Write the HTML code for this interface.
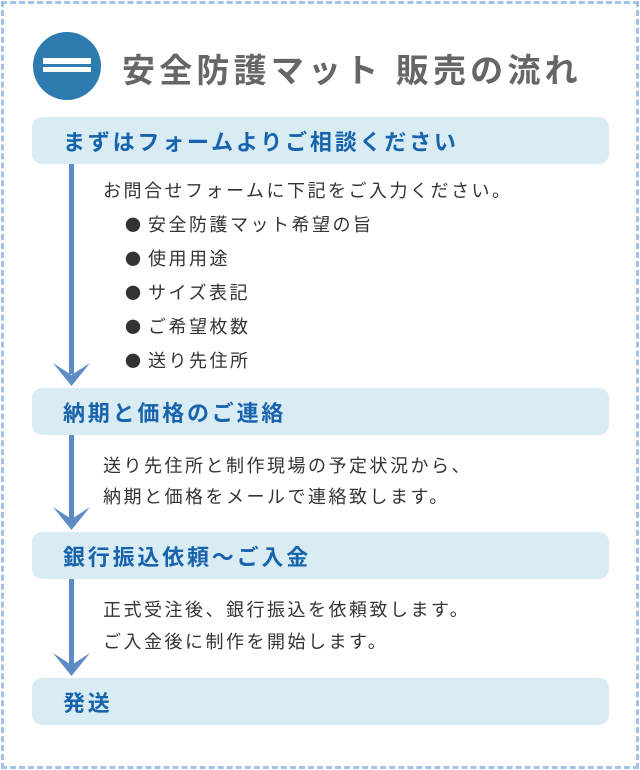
<!DOCTYPE html><html><head><meta charset="utf-8"><style>
body{margin:0;width:640px;height:770px;background:#fff;font-family:"Liberation Sans","Noto Sans CJK JP",sans-serif;position:relative;overflow:hidden}
.frame{position:absolute;left:1px;top:1px;width:632px;height:762px;border:3px dashed #a3c2e6}
.t{position:absolute;white-space:nowrap}
.box{position:absolute;left:32px;width:577px;height:47px;background:#daecf3;border-radius:10px}
.box span{position:absolute;left:31px;top:8px;font-size:22px;letter-spacing:2.8px;font-weight:bold;color:#1764ad}
.p{position:absolute;left:103px;font-size:18px;letter-spacing:2.5px;color:#333;white-space:nowrap}
.b{position:absolute;left:125px;font-size:16px;color:#333;font-family:"Noto Sans CJK JP",sans-serif}
.line{position:absolute;left:69px;width:5px;background:#5b8cc5}
</style></head><body>
<div class="frame"></div>
<div style="position:absolute;left:33px;top:32px;width:68px;height:68px;border-radius:50%;background:#2e7bb0"></div>
<div style="position:absolute;left:43px;top:58px;width:48px;height:6px;background:#fff"></div>
<div style="position:absolute;left:43px;top:67px;width:48px;height:5px;background:#fff"></div>
<div class="t" style="left:122px;top:44px;font-size:33px;letter-spacing:4.2px;font-weight:bold;color:#666">安全防護マット 販売の流れ</div>

<div class="box" style="top:117px"><span>まずはフォームよりご相談ください</span></div>
<div class="box" style="top:388px"><span>納期と価格のご連絡</span></div>
<div class="box" style="top:532px"><span>銀行振込依頼～ご入金</span></div>
<div class="box" style="top:678px"><span>発送</span></div>

<div class="line" style="top:164px;height:210px"></div>
<div class="line" style="top:435px;height:84px"></div>
<div class="line" style="top:579px;height:86px"></div>
<svg style="position:absolute;left:0;top:0" width="640" height="770">
<path d="M53 363 L71.5 386 L90 363 L71.5 375 Z" fill="#5b8cc5"/>
<path d="M53 507 L71.5 530 L90 507 L71.5 519 Z" fill="#5b8cc5"/>
<path d="M53 653 L71.5 676 L90 653 L71.5 665 Z" fill="#5b8cc5"/>
</svg>

<div class="p" style="top:177px">お問合せフォームに下記をご入力ください。</div>
<div class="b" style="top:212px">●</div><div class="p" style="top:211px;left:148px">安全防護マット希望の旨</div>
<div class="b" style="top:246px">●</div><div class="p" style="top:245px;left:148px">使用用途</div>
<div class="b" style="top:280px">●</div><div class="p" style="top:279px;left:148px">サイズ表記</div>
<div class="b" style="top:314px">●</div><div class="p" style="top:313px;left:148px">ご希望枚数</div>
<div class="b" style="top:348px">●</div><div class="p" style="top:347px;left:148px">送り先住所</div>

<div class="p" style="top:452px">送り先住所と制作現場の予定状況から、</div>
<div class="p" style="top:483px">納期と価格をメールで連絡致します。</div>

<div class="p" style="top:596px">正式受注後、銀行振込を依頼致します。</div>
<div class="p" style="top:628px">ご入金後に制作を開始します。</div>
</body></html>
